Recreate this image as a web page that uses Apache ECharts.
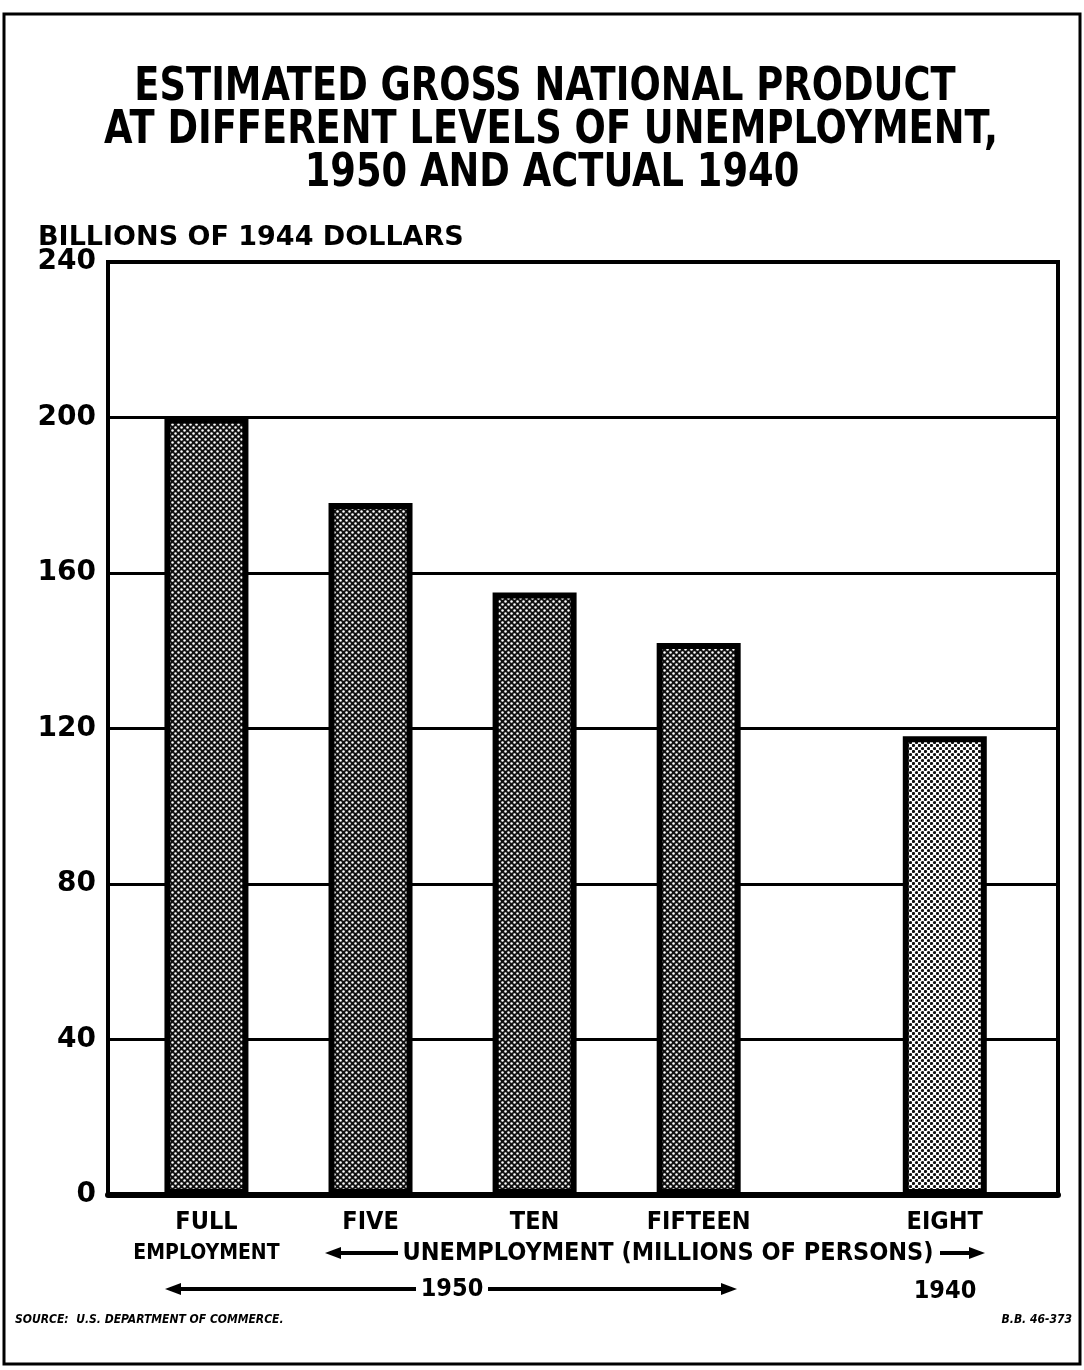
<!DOCTYPE html>
<html>
<head>
<meta charset="utf-8">
<script src="https://cdn.jsdelivr.net/npm/echarts@6/dist/echarts.min.js"></script>
<style>
html,body{margin:0;padding:0;background:#fff;}
#chart{width:1084px;height:1370px;}
</style>
</head>
<body>
<div id="chart"></div>
<script>
// ---- data ----
var categories = ['FULL\nEMPLOYMENT', 'FIVE', 'TEN', 'FIFTEEN', 'EIGHT'];
var groups = ['1950', '1950', '1950', '1950', '1940'];
var catPositions = [0, 1, 2, 3, 4.5];
var gnpValues = [200, 178, 155, 142, 118];
var yTicks = [0, 40, 80, 120, 160, 200, 240];

var TITLE_FONT = '"DejaVu Sans Condensed", "Liberation Sans Narrow", "Liberation Sans", sans-serif';
var LABEL_FONT = '"DejaVu Sans", "Liberation Sans", sans-serif';

function makePattern(dark) {
  var c = document.createElement('canvas');
  c.width = 6; c.height = 6;
  var g = c.getContext('2d');
  if (dark) {
    g.fillStyle = '#111'; g.fillRect(0, 0, 6, 6);
    g.fillStyle = '#fff';
    [[1.5,1.5],[4.5,4.5]].forEach(function(p){ g.beginPath(); g.arc(p[0], p[1], 1.25, 0, Math.PI*2); g.fill(); });
  } else {
    g.fillStyle = '#fff'; g.fillRect(0, 0, 6, 6);
    g.fillStyle = '#111';
    [[1.5,1.5],[4.5,4.5]].forEach(function(p){ g.beginPath(); g.arc(p[0], p[1], 1.6, 0, Math.PI*2); g.fill(); });
  }
  return { image: c, repeat: 'repeat' };
}
var darkFill = makePattern(true);
var lightFill = makePattern(false);

var chart = echarts.init(document.getElementById('chart'), null, { renderer: 'canvas' });

var barData = gnpValues.map(function (v, i) {
  return {
    value: [catPositions[i], v],
    itemStyle: { color: groups[i] === '1940' ? lightFill : darkFill }
  };
});

function arrowLine(x1, x2, y, leftHead, rightHead) {
  var els = [{
    type: 'line', shape: { x1: x1, y1: y, x2: x2, y2: y },
    style: { stroke: '#000', lineWidth: 4 }
  }];
  if (leftHead) els.push({ type: 'polygon', shape: { points: [[x1 - 5, y], [x1 + 11, y - 6], [x1 + 11, y + 6]] }, style: { fill: '#000' } });
  if (rightHead) els.push({ type: 'polygon', shape: { points: [[x2 + 5, y], [x2 - 11, y - 6], [x2 - 11, y + 6]] }, style: { fill: '#000' } });
  return els;
}

var textStyleBase = { fill: '#000', fontWeight: 'bold', fontFamily: TITLE_FONT };
function titleLine(text, x, y) {
  return { type: 'text', x: x, y: y, scaleX: 0.89,
    style: Object.assign({ text: text, fontSize: 46, textAlign: 'center', textVerticalAlign: 'middle' }, textStyleBase) };
}

var graphics = [
  { type: 'rect', shape: { x: 4, y: 14, width: 1076, height: 1350 }, style: { fill: 'none', stroke: '#000', lineWidth: 3 }, silent: true },
  titleLine('ESTIMATED GROSS NATIONAL PRODUCT', 545, 88),
  titleLine('AT DIFFERENT LEVELS OF UNEMPLOYMENT,', 551, 131),
  titleLine('1950 AND ACTUAL 1940', 552, 174),
  { type: 'text', x: 38, y: 238, style: { text: 'BILLIONS OF 1944 DOLLARS', fontSize: 27, fontWeight: 'bold', fontFamily: LABEL_FONT, fill: '#000', textAlign: 'left', textVerticalAlign: 'middle' } },
  { type: 'text', x: 668, y: 1253, style: Object.assign({ text: 'UNEMPLOYMENT (MILLIONS OF PERSONS)', fontSize: 25, textAlign: 'center', textVerticalAlign: 'middle' }, textStyleBase) },
  { type: 'text', x: 452, y: 1289, style: Object.assign({ text: '1950', fontSize: 25, textAlign: 'center', textVerticalAlign: 'middle' }, textStyleBase) },
  { type: 'text', x: 945, y: 1291, style: Object.assign({ text: '1940', fontSize: 25, textAlign: 'center', textVerticalAlign: 'middle' }, textStyleBase) },
  { type: 'text', x: 15, y: 1320, style: { text: 'SOURCE:  U.S. DEPARTMENT OF COMMERCE.', fontSize: 12, fontWeight: 'bold', fontStyle: 'italic', fontFamily: TITLE_FONT, fill: '#000', textAlign: 'left', textVerticalAlign: 'middle' } },
  { type: 'text', x: 1072, y: 1320, style: { text: 'B.B. 46-373', fontSize: 12, fontWeight: 'bold', fontStyle: 'italic', fontFamily: TITLE_FONT, fill: '#000', textAlign: 'right', textVerticalAlign: 'middle' } }
];
graphics = graphics
  .concat(arrowLine(330, 398, 1253, true, false))
  .concat(arrowLine(940, 980, 1253, false, true))
  .concat(arrowLine(170, 416, 1289, true, false))
  .concat(arrowLine(488, 732, 1289, false, true));

chart.setOption({
  animation: false,
  backgroundColor: '#fff',
  grid: { left: 108, right: 26, top: 262, bottom: 175, show: true, borderColor: '#000', borderWidth: 4, backgroundColor: 'transparent' },
  xAxis: {
    type: 'value', min: -0.6, max: 5.19,
    splitLine: { show: false },
    axisLine: { show: true, onZero: false, lineStyle: { color: '#000', width: 6 } },
    axisTick: { show: false },
    axisLabel: {
      show: true,
      customValues: catPositions,
      margin: 12,
      color: '#000', fontWeight: 'bold', fontSize: 25, fontFamily: TITLE_FONT, lineHeight: 31,
      verticalAlign: 'top',
      formatter: function (v) {
        var i = catPositions.indexOf(v);
        if (i < 0) return '';
        var parts = categories[i].split('\n');
        if (parts.length > 1) return '{a|' + parts[0] + '}\n{b|' + parts[1] + '}';
        return '{a|' + parts[0] + '}';
      },
      rich: {
        a: { fontSize: 25, fontWeight: 'bold', fontFamily: TITLE_FONT, lineHeight: 31, color: '#000' },
        b: { fontSize: 21, fontWeight: 'bold', fontFamily: TITLE_FONT, lineHeight: 31, color: '#000' }
      }
    }
  },
  yAxis: {
    type: 'value', min: 0, max: 240, interval: 40,
    axisLine: { show: true, onZero: false, lineStyle: { color: '#000', width: 4 } },
    axisTick: { show: false },
    splitLine: { show: true, lineStyle: { color: '#000', width: 3 } },
    axisLabel: {
      color: '#000', fontSize: 28, fontWeight: 'bold', fontFamily: LABEL_FONT, margin: 12,
      formatter: function (v) { return yTicks.indexOf(v) >= 0 ? String(v) : ''; }
    }
  },
  series: [{
    type: 'bar',
    barWidth: 84,
    data: barData,
    itemStyle: { borderColor: '#000', borderWidth: 6 },
    z: 5
  }],
  graphic: graphics
});
</script>
</body>
</html>
